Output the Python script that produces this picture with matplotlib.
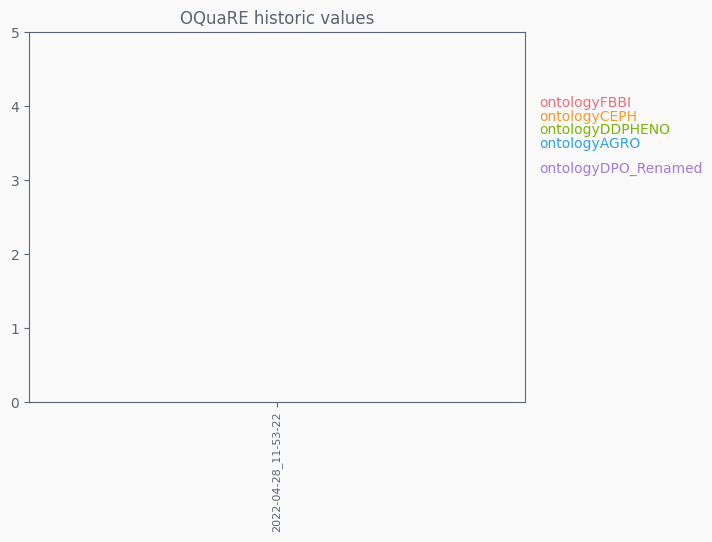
import matplotlib
matplotlib.use("Agg")
import matplotlib.pyplot as plt
import matplotlib.transforms as mtransforms

dates = ["2022-04-28_11-53-22"]
series_names = ["ontologyFBBI", "ontologyCEPH", "ontologyDDPHENO", "ontologyAGRO", "ontologyDPO_Renamed"]
series_values = [[4.04], [3.85], [3.68], [3.49], [3.15]]
colors = ["#ee6d7a", "#f49a29", "#7cb30a", "#31a2e0", "#a47ad5"]
yticks = [0, 1, 2, 3, 4, 5]

text_color = "#5a6472"
spine_color = "#5a6577"
bg = "#fafafa"

fig = plt.figure(figsize=(7.12, 5.42), dpi=100, facecolor=bg)
ax = fig.add_axes([29/712, 1 - 402/542, (525-29)/712, (402-32)/542], facecolor=bg)

xs = list(range(len(dates)))
trans = mtransforms.blended_transform_factory(ax.transAxes, ax.transData)
for name, vals, c in zip(series_names, series_values, colors):
    ax.plot(xs, vals, color=c, linewidth=1.5)
    ax.text(1.028, vals[-1], name, color=c, fontsize=10, va="center", ha="left",
            transform=trans, clip_on=False)

ax.set_xlim(-0.5, len(dates) - 0.5)
ax.set_ylim(0, 5)
ax.set_xticks(xs)
ax.set_xticklabels(dates, rotation=90, fontsize=8, color=text_color)
ax.set_yticks(yticks)
ax.set_yticklabels([str(v) for v in yticks], fontsize=10, color=text_color)
ax.tick_params(colors=spine_color, labelcolor=text_color)
for s in ax.spines.values():
    s.set_color(spine_color)
ax.set_title("OQuaRE historic values", fontsize=12, color=text_color)

fig.savefig("out.png", dpi=100, facecolor=bg)
